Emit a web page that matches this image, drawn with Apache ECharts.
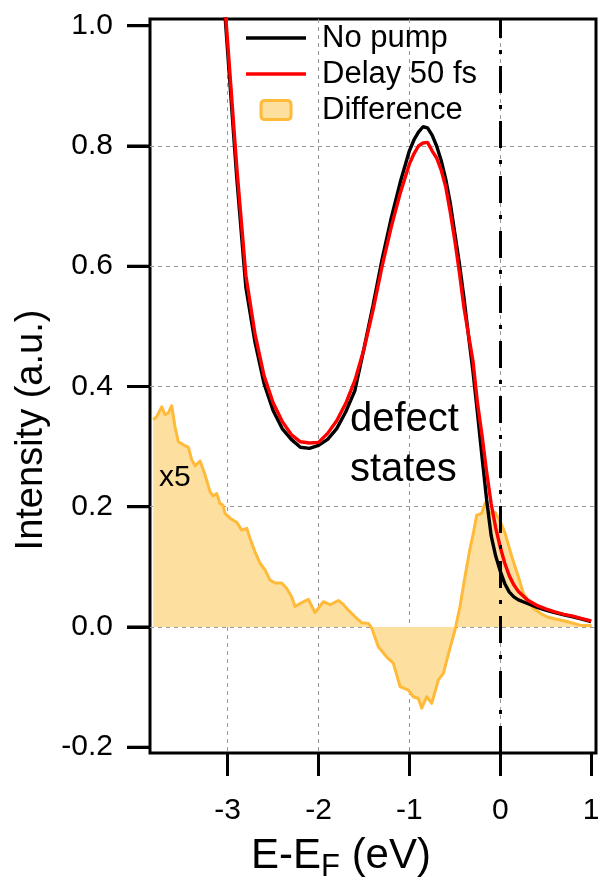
<!DOCTYPE html>
<html>
<head>
<meta charset="utf-8">
<script src="https://cdn.jsdelivr.net/npm/echarts@6/dist/echarts.min.js"></script>
<style>
html,body{margin:0;padding:0;background:#fff;}
#chart{width:601px;height:877px;}
</style>
</head>
<body>
<div id="chart"></div>
<script>
// ---- data ----
const energy = [-3.05, -3.0, -2.9, -2.8, -2.7, -2.6, -2.5, -2.4, -2.3, -2.2, -2.1, -2.0, -1.9, -1.8, -1.7, -1.6, -1.5, -1.4, -1.3, -1.2, -1.1, -1.0,
  -0.95, -0.9, -0.85, -0.8, -0.75, -0.7, -0.65, -0.6, -0.55, -0.5, -0.45, -0.4, -0.35, -0.3, -0.25, -0.2, -0.15, -0.1, -0.05, 0.0, 0.05, 0.1, 0.15, 0.2,
  0.3, 0.4, 0.5, 0.6, 0.7, 0.8, 0.9, 1.0];
const noPump = [1.06, 0.956, 0.747, 0.565, 0.474, 0.405, 0.360, 0.330, 0.312, 0.299, 0.297, 0.302, 0.312, 0.330, 0.358, 0.393, 0.463, 0.535, 0.612, 0.680, 0.740, 0.792,
  0.810, 0.823, 0.832, 0.830, 0.818, 0.800, 0.776, 0.745, 0.705, 0.655, 0.605, 0.548, 0.485, 0.425, 0.355, 0.282, 0.212, 0.152, 0.118, 0.093, 0.072, 0.058, 0.050, 0.045,
  0.039, 0.033, 0.028, 0.024, 0.020, 0.017, 0.013, 0.009];
const delay50 = [1.07, 0.972, 0.765, 0.585, 0.488, 0.418, 0.373, 0.342, 0.320, 0.308, 0.306, 0.307, 0.322, 0.343, 0.372, 0.410, 0.462, 0.527, 0.600, 0.665, 0.722, 0.770,
  0.787, 0.800, 0.805, 0.806, 0.792, 0.780, 0.760, 0.732, 0.690, 0.643, 0.590, 0.532, 0.487, 0.442, 0.372, 0.318, 0.258, 0.205, 0.165, 0.133, 0.106, 0.085, 0.070, 0.059,
  0.045, 0.036, 0.030, 0.025, 0.021, 0.018, 0.014, 0.010];
const diffEnergy = [-3.82, -3.781, -3.726, -3.690, -3.653, -3.616, -3.580, -3.543, -3.488, -3.433, -3.396, -3.359, -3.304, -3.249, -3.194, -3.161, -3.121, -3.084,
  -3.054, -3.029, -2.974, -2.900, -2.845, -2.790, -2.735, -2.699, -2.644, -2.589, -2.534, -2.479, -2.405, -2.350, -2.295, -2.259, -2.204, -2.112, -2.039,
  -1.947, -1.873, -1.782, -1.730, -1.672, -1.598, -1.524, -1.452, -1.414, -1.342, -1.249, -1.177, -1.103, -1.012, -0.957, -0.901, -0.864, -0.809, -0.754,
  -0.681, -0.626, -0.553, -0.498, -0.443, -0.388, -0.332, -0.296, -0.259, -0.204, -0.167, -0.112, -0.057, -0.002, 0.053, 0.127, 0.199, 0.254, 0.364,
  0.45, 0.512, 0.584, 0.732, 0.878, 1.007];
const diffValue = [0.345, 0.350, 0.366, 0.353, 0.356, 0.368, 0.333, 0.308, 0.303, 0.299, 0.278, 0.268, 0.276, 0.253, 0.225, 0.218, 0.222, 0.205,
  0.203, 0.189, 0.181, 0.174, 0.161, 0.164, 0.139, 0.125, 0.106, 0.095, 0.078, 0.073, 0.073, 0.064, 0.050, 0.034, 0.039, 0.046, 0.024,
  0.042, 0.037, 0.044, 0.038, 0.028, 0.017, 0.007, 0.006, -0.002, -0.033, -0.050, -0.060, -0.099, -0.105, -0.116, -0.119, -0.135, -0.116, -0.127,
  -0.088, -0.077, -0.035, -0.005, 0.034, 0.084, 0.131, 0.156, 0.186, 0.189, 0.206, 0.189, 0.191, 0.176, 0.156, 0.117, 0.084, 0.056, 0.031,
  0.022, 0.017, 0.014, 0.009, 0.003, 0.002];
const xTicks = [-3, -2, -1, 0, 1];
const yTicks = [-0.2, 0.0, 0.2, 0.4, 0.6, 0.8, 1.0];
const xGrid = [-3, -2, -1, 0];
const yGrid = [0.0, 0.2, 0.4, 0.6, 0.8];
const seriesNames = ['No pump', 'Delay 50 fs', 'Difference'];

// ---- chart ----
const FONT = "'Liberation Sans', Arial, Helvetica, sans-serif";
const chart = echarts.init(document.getElementById('chart'), null, {renderer: 'canvas'});
const pairs = (xs, ys) => xs.map((x, i) => [x, ys[i]]);
const xMin = -3.855, xMax = 1.054, yMin = -0.2096, yMax = 1.0112;
const LINE_ICON = 'path://M0,0 H60 V3.4 H0 Z';
const TICK = {show: true, inside: false, length: 23, lineStyle: {color: '#000', width: 3}};
const NO_LINE = {show: false, onZero: false};
const TICK_LEN = 23;

// grid-line-only axis
const gridAxis = (pos, mn, mx, vals) => ({
  type: 'value', min: mn, max: mx, position: pos, gridIndex: 0,
  axisLine: NO_LINE, axisTick: {show: false, customValues: vals},
  axisLabel: {show: false, customValues: vals},
  splitLine: {show: true, lineStyle: {color: '#999', width: 1, type: [4, 4]}}
});

const option = {
  backgroundColor: '#fff',
  animation: false,
  grid: {left: 150, right: 5, top: 19, bottom: 124, show: true, borderColor: '#000', borderWidth: 3, outerBoundsMode: 'none'},
  legend: {
    orient: 'vertical', left: 246, top: 22, padding: 0, itemGap: 4, itemWidth: 60, itemHeight: 19,
    textStyle: {fontFamily: FONT, fontSize: 31, color: '#000', lineHeight: 32, padding: [0, 0, 0, 11]},
    data: [
      {name: seriesNames[0], icon: LINE_ICON, itemStyle: {color: '#000', borderWidth: 0}},
      {name: seriesNames[1], icon: LINE_ICON, itemStyle: {color: '#FF0000', borderWidth: 0}},
      {name: seriesNames[2], icon: 'path://M4,0 H26 Q30,0 30,4 V15 Q30,19 26,19 H4 Q0,19 0,15 V4 Q0,0 4,0 Z',
       itemStyle: {color: '#FDDFA0', borderColor: '#FFBA3A', borderWidth: 3}}
    ]
  },
  xAxis: [{
    type: 'value', min: xMin, max: xMax, position: 'bottom',
    axisLine: NO_LINE,
    axisTick: Object.assign({customValues: xTicks}, TICK),
    axisLabel: {customValues: xTicks, margin: 43, fontFamily: FONT, fontSize: 30, color: '#000', formatter: v => String(Math.round(v))},
    splitLine: {show: false},
    name: '{a|E-E}{s|F}{a| (eV)}', nameLocation: 'middle', nameGap: 76,
    nameTextStyle: {padding: [0, 64, 0, 0], rich: {
      a: {fontFamily: FONT, fontSize: 42, color: '#000', lineHeight: 54},
      s: {fontFamily: FONT, fontSize: 31, color: '#000', lineHeight: 31, verticalAlign: 'bottom'}
    }}
  },
    gridAxis('top', xMin, xMax, xGrid)
  ],
  yAxis: [{
    type: 'value', min: yMin, max: yMax, position: 'left',
    axisLine: NO_LINE,
    axisTick: Object.assign({customValues: yTicks}, TICK),
    axisLabel: {customValues: yTicks, margin: 37, fontFamily: FONT, fontSize: 30, color: '#000', formatter: v => v.toFixed(1)},
    splitLine: {show: false},
    name: 'Intensity (a.u.)', nameLocation: 'middle', nameGap: 97,
    nameTextStyle: {fontFamily: FONT, fontSize: 38, color: '#000', padding: [0, 88, 0, 0]}
  },
    gridAxis('right', yMin, yMax, yGrid)
  ],
  series: [
    {
      name: seriesNames[2], type: 'line', xAxisIndex: 0, yAxisIndex: 0,
      data: pairs(diffEnergy, diffValue), showSymbol: false, symbol: 'none', z: 2,
      lineStyle: {color: '#FFBA3A', width: 3, join: 'round'},
      itemStyle: {color: '#FFBA3A'},
      areaStyle: {color: '#FDDFA0', opacity: 1, origin: 0}
    },
    {
      name: seriesNames[0], type: 'line', xAxisIndex: 0, yAxisIndex: 0,
      data: pairs(energy, noPump), showSymbol: false, symbol: 'none', z: 3,
      lineStyle: {color: '#000', width: 3.4}, itemStyle: {color: '#000'},
      markLine: {
        silent: true, symbol: ['none', 'none'], label: {show: false},
        lineStyle: {color: '#000', width: 3, type: [27, 12, 4, 12]},
        data: [{xAxis: 0}]
      }
    },
    {
      name: seriesNames[1], type: 'line', xAxisIndex: 0, yAxisIndex: 0,
      data: pairs(energy, delay50), showSymbol: false, symbol: 'none', z: 4,
      lineStyle: {color: '#FF0000', width: 3.4}, itemStyle: {color: '#FF0000'}
    },
    {
      // outward y-axis tick marks at the tick values, placed through the y scale
      type: 'custom', xAxisIndex: 0, yAxisIndex: 0, silent: true, clip: false, z: 6,
      data: yTicks.map(v => [xMin, v]),
      renderItem: (params, api) => {
        const p = api.coord([api.value(0), api.value(1)]);
        return {type: 'line', shape: {x1: p[0] - TICK_LEN, y1: p[1], x2: p[0], y2: p[1]},
                style: {stroke: '#000', lineWidth: 3}};
      }
    }
  ],
  graphic: [
    {type: 'text', left: 350, top: 395, z: 10, style: {text: 'defect\nstates', fontFamily: FONT, fontSize: 40, lineHeight: 50, fill: '#000'}},
    {type: 'text', left: 159, top: 463, z: 10, style: {text: 'x5', fontFamily: FONT, fontSize: 30, fill: '#000'}}
  ]
};
chart.setOption(option);
</script>
</body>
</html>
